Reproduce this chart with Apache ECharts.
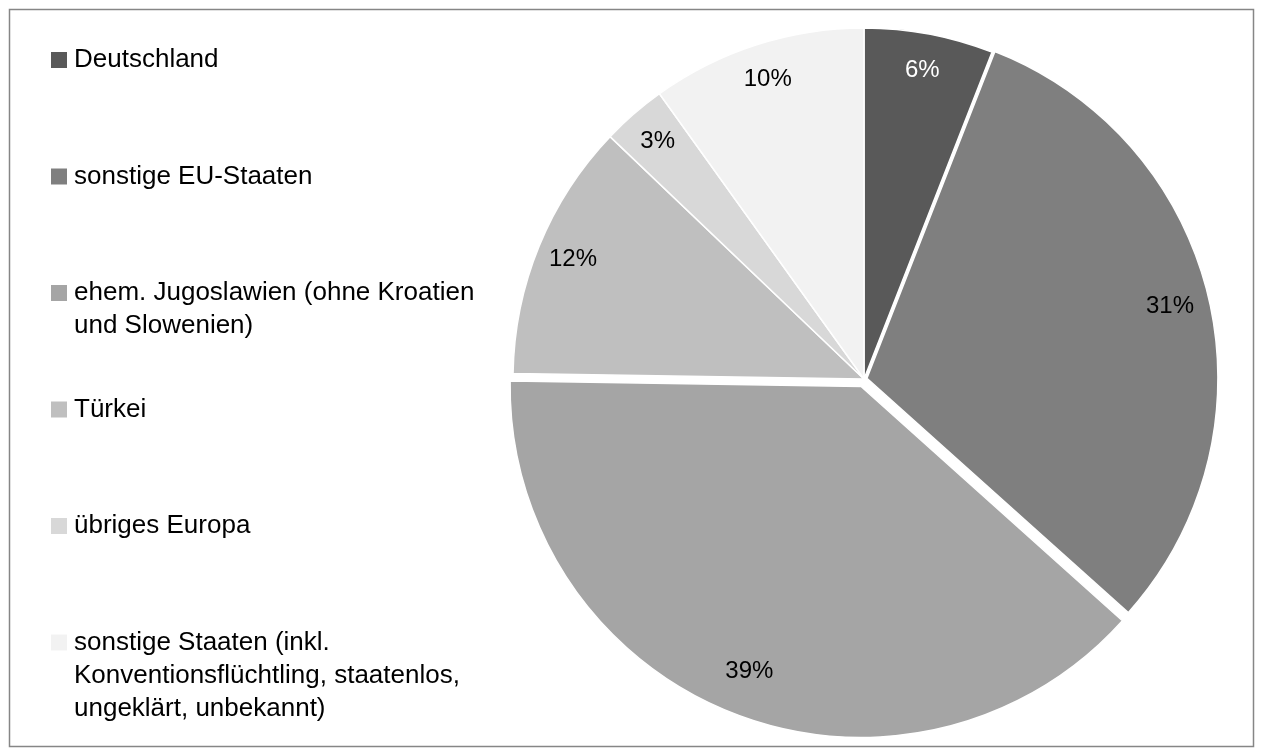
<!DOCTYPE html>
<html>
<head>
<meta charset="utf-8">
<script src="https://cdn.jsdelivr.net/npm/echarts@6/dist/echarts.min.js"></script>
<style>
  html, body { margin: 0; padding: 0; background: #ffffff; }
  #chart { width: 1263px; height: 756px; }
</style>
</head>
<body>
<div id="chart"></div>
<script>
// Herkunft – Anteile nach Staatsangehörigkeit (in %)
const categories = [
  'Deutschland',
  'sonstige EU-Staaten',
  'ehem. Jugoslawien (ohne Kroatien\nund Slowenien)',
  'Türkei',
  'übriges Europa',
  'sonstige Staaten (inkl.\nKonventionsflüchtling, staatenlos,\nungeklärt, unbekannt)'
];
const shares = [6, 31, 39, 12, 3, 10];

// styling
const sliceColors = ['#595959', '#7f7f7f', '#a5a5a5', '#bfbfbf', '#d8d8d8', '#f2f2f2'];
const labelColors = ['#ffffff', '#000000', '#000000', '#000000', '#000000', '#000000'];
const explodeBy = [0, 3, 8, 0, 0, 0];   // pulled-out distance per slice (px)

const FONT = '"Liberation Sans", Arial, sans-serif';
const CENTER = [864, 379];
const RADIUS = 351;
const LABEL_INNER = 272;                 // labels sit midway between this and RADIUS
const CLEAR = 'rgba(0,0,0,0)';

// Each slice gets its own pie layer (full data keeps angles identical),
// so every slice can be pulled out by its own distance.
function sliceLayer(active) {
  const style = { color: sliceColors[active], borderColor: '#ffffff', borderWidth: 1.5 };
  return {
    type: 'pie',
    center: CENTER,
    radius: [0, RADIUS],
    startAngle: 90,
    clockwise: true,
    animation: false,
    silent: true,
    avoidLabelOverlap: false,
    selectedMode: 'multiple',
    selectedOffset: explodeBy[active],
    z: 2,
    label: { show: false },
    labelLine: { show: false },
    emphasis: { disabled: true },
    select: { itemStyle: style },
    data: shares.map((v, i) => ({
      name: categories[i],
      value: v,
      selected: i === active && explodeBy[i] > 0,
      itemStyle: i === active ? style : { color: CLEAR, borderWidth: 0 }
    }))
  };
}

// Transparent ring that only carries the percentage labels
const labelLayer = {
  type: 'pie',
  center: CENTER,
  radius: [LABEL_INNER, RADIUS],
  startAngle: 90,
  clockwise: true,
  animation: false,
  silent: true,
  avoidLabelOverlap: false,
  z: 5,
  labelLine: { show: false },
  emphasis: { disabled: true },
  itemStyle: { color: CLEAR, borderWidth: 0 },
  data: shares.map((v, i) => ({
    name: categories[i],
    value: v,
    label: {
      show: true,
      position: 'inside',
      formatter: p => p.value + '%',
      color: labelColors[i],
      fontFamily: FONT,
      fontSize: 24
    }
  }))
};

const series = shares.map((_, i) => sliceLayer(i));
series.push(labelLayer);

// Legend on the left: colour square + text, evenly spaced rows
const LEGEND_TOP = 60, LEGEND_STEP = 116.5, LINE_H = 33;
const legendItems = [];
categories.forEach((name, i) => {
  const y = LEGEND_TOP + i * LEGEND_STEP;
  legendItems.push({
    type: 'rect',
    shape: { x: 51, y: y - 8, width: 16, height: 16 },
    style: { fill: sliceColors[i] },
    silent: true
  });
  legendItems.push({
    type: 'text',
    x: 74,
    y: y - LINE_H / 2,
    style: {
      text: name,
      fontFamily: FONT,
      fontSize: 26,
      lineHeight: LINE_H,
      fill: '#000000',
      verticalAlign: 'top',
      align: 'left'
    },
    silent: true
  });
});

const chart = echarts.init(document.getElementById('chart'), null, { renderer: 'canvas' });
chart.setOption({
  backgroundColor: '#ffffff',
  animation: false,
  graphic: [
    {
      type: 'rect',
      shape: { x: 9.5, y: 9.5, width: 1244, height: 737 },
      style: { fill: 'none', stroke: '#868686', lineWidth: 1.5 },
      silent: true,
      z: 0
    },
    ...legendItems
  ],
  series: series
});
</script>
</body>
</html>
